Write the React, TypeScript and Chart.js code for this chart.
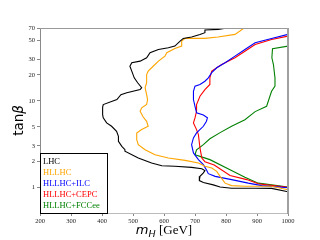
import React, { useEffect, useRef } from "react";
import { Chart, registerables } from "chart.js";

Chart.register(...registerables);

const xTicks = [200, 300, 400, 500, 600, 700, 800, 900, 1000];
const yTicks = [1, 2, 3, 5, 10, 20, 30, 50, 70];

const seriesLabels = ["LHC", "HLLHC", "HLLHC+ILC", "HLLHC+CEPC", "HLLHC+FCCee"];
const seriesColors = ["#000000", "#FFA500", "#0000FF", "#FF0000", "#008000"];

const lhcMass = [803, 775, 732, 732, 716, 689, 662, 652, 635, 614, 582, 555, 544, 523, 496, 490, 496, 504, 515, 528, 523, 480, 461, 448, 404, 402, 402, 404, 415, 431, 447, 453, 453, 464, 474, 474, 517, 560, 593, 635, 689, 722, 732, 727, 716, 714, 727, 759, 781, 818, 894, 947, 1000];
const lhcTanb = [70, 67.5, 66.5, 61.8, 59, 55, 53, 49.3, 43.2, 41.3, 39.5, 36.2, 31.6, 28.9, 27.7, 25.2, 22.1, 18.5, 16.2, 14.2, 13.5, 12.4, 11.8, 10.35, 9.06, 8.4, 6.93, 6.34, 5.55, 5.07, 4.43, 3.88, 3.39, 2.97, 2.71, 2.6, 2.17, 1.9, 1.77, 1.74, 1.69, 1.63, 1.55, 1.46, 1.33, 1.19, 1.13, 1.06, 1.0, 0.97, 0.97, 0.965, 0.88];

const hlMass = [858, 856, 845, 829, 774, 732, 668, 657, 657, 635, 609, 603, 582, 565, 549, 544, 544, 539, 544, 547, 544, 528, 523, 533, 544, 549, 528, 512, 512, 517, 539, 571, 614, 668, 711, 732, 754, 770, 781, 797, 818, 861, 947, 1000];
const hlTanb = [70, 69, 64.5, 59, 55, 53, 53, 49.3, 43.2, 40.5, 36.2, 33, 28.9, 25.2, 22.1, 20.2, 16.2, 14.2, 11.8, 10.35, 9.06, 8.29, 7.57, 6.5, 5.79, 5.07, 4.64, 4.24, 3.55, 3.1, 2.71, 2.37, 2.17, 2.04, 1.9, 1.74, 1.66, 1.52, 1.33, 1.11, 1.04, 1.02, 1.02, 0.93];

const ilcMass = [1000, 947, 894, 861, 829, 797, 770, 754, 743, 732, 716, 700, 695, 695, 700, 705, 727, 740, 737, 727, 705, 695, 689, 695, 711, 727, 738, 743, 765, 818, 872, 915, 1000];
const ilcTanb = [59, 53, 47.3, 39.5, 33, 27.7, 24.2, 21.2, 18.5, 16.9, 15.5, 14.8, 12.9, 10.35, 8.65, 7.25, 6.85, 6.35, 5.8, 5.07, 4.24, 3.71, 3.1, 2.49, 2.08, 1.82, 1.56, 1.43, 1.33, 1.22, 1.11, 1.04, 0.98];

const cepcMass = [1000, 947, 894, 861, 829, 786, 754, 748, 748, 732, 716, 705, 705, 700, 695, 705, 711, 716, 722, 732, 762, 813, 867, 904, 931, 1000];
const cepcTanb = [56.4, 51.6, 45.1, 37.7, 31.6, 26.4, 22.1, 18.5, 15.5, 13.5, 11.3, 9.06, 7.57, 6.34, 5.55, 4.64, 4.06, 2.84, 2.17, 1.97, 1.8, 1.36, 1.22, 1.09, 1.06, 0.995];

const fccMass = [1000, 950, 948, 953, 958, 958, 947, 931, 894, 861, 818, 781, 748, 727, 705, 700, 716, 748, 813, 861, 904, 947, 1000];
const fccTanb = [43.2, 40.3, 31.6, 26.4, 18.5, 14.8, 12.9, 8.65, 7.5, 6.05, 5.07, 4.28, 3.63, 3.1, 2.71, 2.37, 2.27, 2.08, 1.59, 1.3, 1.11, 1.06, 1.0];

const seriesMass = [lhcMass, hlMass, ilcMass, cepcMass, fccMass];
const seriesTanb = [lhcTanb, hlTanb, ilcTanb, cepcTanb, fccTanb];

const decor = {
  id: "decor",
  afterDraw(chart: any) {
    const { ctx, chartArea: a } = chart;
    ctx.save();
    // frame
    ctx.lineWidth = 1;
    ctx.strokeStyle = "#8a8a8a";
    ctx.beginPath();
    ctx.moveTo(a.left + 0.5, a.top);
    ctx.lineTo(a.left + 0.5, a.bottom);
    ctx.stroke();
    ctx.strokeStyle = "#999";
    ctx.beginPath();
    ctx.moveTo(a.left, a.top + 0.5);
    ctx.lineTo(a.right, a.top + 0.5);
    ctx.stroke();
    ctx.strokeStyle = "#bbb";
    ctx.beginPath();
    ctx.moveTo(a.left, a.bottom + 0.5);
    ctx.lineTo(a.right, a.bottom + 0.5);
    ctx.stroke();
    ctx.lineWidth = 2;
    ctx.strokeStyle = "#a0a0a0";
    ctx.beginPath();
    ctx.moveTo(a.right, a.top);
    ctx.lineTo(a.right, a.bottom + 1);
    ctx.stroke();

    // legend
    const bx = a.left, by = a.bottom - 60, bw = 68, bh = 60;
    ctx.fillStyle = "#fff";
    ctx.fillRect(bx, by, bw, bh);
    ctx.lineWidth = 1;
    ctx.strokeStyle = "#000";
    ctx.strokeRect(bx + 0.5, by + 0.5, bw - 1, bh);
    ctx.font = "8.5px 'Liberation Serif'";
    ctx.textBaseline = "middle";
    ctx.textAlign = "left";
    chart.data.datasets.forEach((ds: any, i: number) => {
      ctx.fillStyle = ds.borderColor;
      ctx.fillText(ds.label, bx + 3, by + 9 + i * 11);
    });

    // y title: tan β
    ctx.save();
    ctx.translate(23, (a.top + a.bottom) / 2);
    ctx.rotate(-Math.PI / 2);
    ctx.textBaseline = "alphabetic";
    ctx.fillStyle = "#000";
    const f1 = "13.5px 'DejaVu Sans'";
    const f2 = "italic 13.5px 'DejaVu Sans'";
    ctx.font = f1;
    const w1 = ctx.measureText("tan").width;
    ctx.font = f2;
    const w2 = ctx.measureText("β").width;
    const sx = -(w1 + w2) / 2;
    ctx.font = f1;
    ctx.textAlign = "left";
    ctx.fillText("tan", sx, 0);
    ctx.font = f2;
    ctx.fillText("β", sx + w1, 0);
    ctx.restore();

    // x title: m_H [GeV]
    const fm = "italic 13px 'DejaVu Sans'";
    const fs = "italic 9.5px 'DejaVu Sans'";
    const fg = "13px 'Liberation Serif'";
    ctx.font = fm;
    const wm = ctx.measureText("m").width;
    ctx.font = fs;
    const wh = ctx.measureText("H").width;
    ctx.font = fg;
    const wg = ctx.measureText(" [GeV]").width;
    let x0 = (a.left + a.right) / 2 - (wm + wh + wg) / 2;
    const base = 234;
    ctx.textAlign = "left";
    ctx.textBaseline = "alphabetic";
    ctx.fillStyle = "#000";
    ctx.font = fm;
    ctx.fillText("m", x0, base);
    ctx.font = fs;
    ctx.fillText("H", x0 + wm, base + 3);
    ctx.font = fg;
    ctx.fillText(" [GeV]", x0 + wm + wh, base);
    ctx.restore();
  },
};

export default function App() {
  const ref = useRef<HTMLCanvasElement>(null);
  useEffect(() => {
    const datasets = seriesLabels.map((label, i) => ({
      label,
      data: seriesMass[i].map((m, j) => ({ x: m, y: seriesTanb[i][j] })),
      showLine: true,
      borderColor: seriesColors[i],
      backgroundColor: seriesColors[i],
      borderWidth: 1.1,
      pointRadius: 0,
      tension: 0,
      fill: false,
    }));
    const tickFont = { family: "'Liberation Serif'", size: 6.5 };
    const chart = new Chart(ref.current as HTMLCanvasElement, {
      type: "scatter",
      data: { datasets },
      options: {
        animation: false,
        responsive: false,
        layout: { padding: { top: 28, right: 32, left: 0, bottom: 0 } },
        plugins: { legend: { display: false }, tooltip: { enabled: false } },
        scales: {
          x: {
            type: "linear",
            min: 200,
            max: 1000,
            afterBuildTicks: (s: any) => {
              s.ticks = xTicks.map((v) => ({ value: v }));
            },
            afterFit: (s: any) => {
              s.height = 27;
            },
            ticks: {
              autoSkip: false,
              maxRotation: 0,
              font: tickFont,
              color: "#222",
              padding: 1,
              callback: (v: any) => String(v),
            },
            grid: { drawOnChartArea: false, drawTicks: true, tickLength: 3, color: "#888" },
            border: { display: false },
          },
          y: {
            type: "logarithmic",
            min: 0.5,
            max: 70,
            afterBuildTicks: (s: any) => {
              s.ticks = yTicks.map((v) => ({ value: v }));
            },
            afterFit: (s: any) => {
              s.width = 40;
            },
            ticks: {
              autoSkip: false,
              font: tickFont,
              color: "#222",
              padding: 2,
              callback: (v: any) => String(v),
            },
            grid: { drawOnChartArea: false, drawTicks: true, tickLength: 3, color: "#888" },
            border: { display: false },
          },
        },
      },
      plugins: [decor],
    });
    return () => chart.destroy();
  }, []);
  return (
    <div style={{ position: "fixed", left: 0, top: 0, width: 320, height: 240, background: "#fff" }}>
      <canvas ref={ref} width={320} height={240} style={{ display: "block" }} />
    </div>
  );
}
